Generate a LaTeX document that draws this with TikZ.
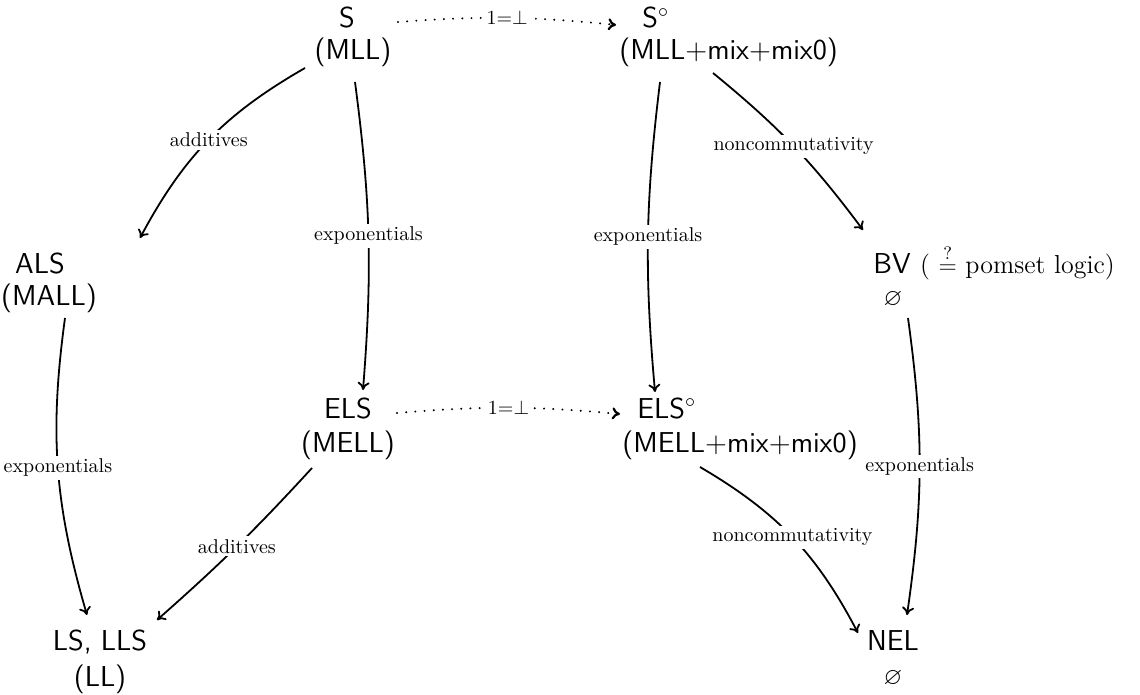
\documentclass[tikz,border=0pt]{standalone}
\usepackage{amssymb}
\usetikzlibrary{arrows.meta,calc}
\begin{document}
\begin{tikzpicture}[x=0.5pt,y=-0.5pt,
  obj/.style={font=\Large\sffamily, inner sep=0pt, anchor=base},
  objw/.style={obj, anchor=base west},
  empt/.style={font=\large, inner sep=0pt, anchor=base},
  lab/.style={font=\normalsize, fill=white, inner sep=1.5pt},
  arr/.style={line width=0.9pt, -{To[length=4pt,width=6pt]}},
  dotarr/.style={line width=1.1pt, dash pattern=on 0pt off 4.6pt, line cap=round, -{To[length=4pt,width=6pt]}},
]
\useasboundingbox (0,0) rectangle (1140,695);
% nodes
\node[obj] (s1) at (347,28) {S};
\node[obj] (s2) at (353,60) {(MLL)};
\node[objw] (so1) at (642,28) {S$^\circ$};
\node[objw] (so2) at (619,60) {(MLL+mix+mix0)};
\node[obj] (a1) at (40,273) {ALS};
\node[obj] (a2) at (49,306) {(MALL)};
\node[objw] (bv1) at (873,273) {BV {\fontsize{13}{16}\selectfont\rmfamily(\,\,$\stackrel{?}{=}$ pomset logic)}};
\node[empt] (bv2) at (893,306) {$\varnothing$};
\node[obj] (e1) at (348,418) {ELS};
\node[obj] (e2) at (348,452) {(MELL)};
\node[objw] (eo1) at (637,418) {ELS$^\circ$};
\node[objw] (eo2) at (622,452) {(MELL+mix+mix0)};
\node[obj] (l1) at (100,650) {LS, LLS};
\node[obj] (l2) at (100,686) {(LL)};
\node[obj] (n1) at (893,650) {NEL};
\node[empt] (n2) at (893,684) {$\varnothing$};
% connectors
\draw[arr] ($(s2.base)+(-48,8)$) to[bend right=16] node[lab]{additives} ($(a1.base)+(100,-35)$);
\draw[arr] ($(s2.base)+(2,22)$) to[bend left=6] node[lab]{exponentials} ($(e1.base)+(15,-28)$);
\draw[arr] ($(so2.base west)+(41,22)$) to[bend right=6] node[lab]{exponentials} ($(eo1.base west)+(18,-26)$);
\draw[arr] ($(so2.base west)+(94,13)$) to[bend left=7] node[lab]{noncommutativity} ($(bv1.base west)+(-10,-43)$);
\draw[arr] ($(a2.base)+(16,12)$) to[bend right=12] node[lab]{exponentials} ($(l1.base)+(-13,-35)$);
\draw[arr] ($(e2.base)+(-36,16)$) to[bend left=3] node[lab]{additives} ($(l1.base)+(57,-30)$);
\draw[arr] ($(eo2.base west)+(78,15)$) to[bend left=16] node[lab]{noncommutativity} ($(n1.base)+(-35,-17)$);
\draw[arr] ($(bv2.base)+(15,12)$) to[bend left=8] node[lab]{exponentials} ($(n1.base)+(14,-35)$);
\draw[dotarr] ($(s1.base)+(51,-6)$) to[bend left=5] node[lab,inner sep=0.5pt]{$1{=}\bot$} ($(so1.base west)+(-26,-3)$);
\draw[dotarr] ($(e1.base)+(49,-5)$) to[bend left=5] node[lab,inner sep=0.5pt]{$1{=}\bot$} ($(eo1.base west)+(-17,-4)$);
\end{tikzpicture}
\end{document}
